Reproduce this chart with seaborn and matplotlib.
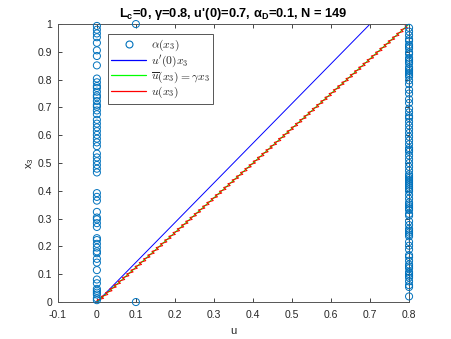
import numpy as np
import pandas as pd
import matplotlib
matplotlib.use("Agg")
import matplotlib.pyplot as plt
from matplotlib.lines import Line2D
from matplotlib.font_manager import FontProperties
import seaborn as sns

# ---- data ----
N = 149
gamma = 0.8
u_prime0 = 0.7
alpha_D = 0.1
alpha_high = 0.8
# node indices (x3 = idx/(N-1)) where alpha(x3) = 0
alpha_zero_idx = [1, 2, 4, 5, 6, 7, 10, 12, 17, 21, 23, 26, 27, 29, 31, 33, 34, 40, 42,
                  44, 45, 48, 54, 56, 58, 69, 71, 73, 75, 77, 79, 83, 85, 87, 89, 91, 93,
                  95, 97, 100, 102, 104, 105, 107, 109, 110, 112, 114, 115, 117, 119, 126,
                  131, 134, 138, 141, 143, 145, 147]
# node indices where alpha(x3) = 0.8
alpha_high_idx = [3, 8, 9, 11, 13, 14, 15, 16, 18, 19, 20, 22, 24, 25, 28, 30, 32, 35, 36,
                  37, 38, 39, 41, 43, 46, 47, 49, 50, 51, 52, 53, 55, 57, 59, 60, 61, 62,
                  63, 64, 65, 66, 67, 68, 70, 72, 74, 76, 78, 80, 81, 82, 84, 86, 88, 90,
                  92, 94, 96, 98, 99, 101, 103, 106, 108, 111, 113, 116, 118, 120, 121,
                  122, 123, 124, 125, 127, 128, 129, 130, 132, 133, 135, 136, 137, 139,
                  140, 142, 144, 146]
# boundary nodes with alpha = alpha_D
alpha_D_idx = [0, 148]
# small zig-zag of u(x3) around the mean line (read amplitude)
u_ripple_pattern = [0.0065, -0.005]

x3_nodes = np.arange(N) / (N - 1)

pts = pd.DataFrame({
    "u": [0.0] * len(alpha_zero_idx) + [alpha_high] * len(alpha_high_idx) + [alpha_D] * len(alpha_D_idx),
    "x3": [x3_nodes[i] for i in alpha_zero_idx + alpha_high_idx + alpha_D_idx],
})

lin = pd.DataFrame({"x3": [0.0, 1.0]})
lin["u"] = u_prime0 * lin["x3"]
mean_df = pd.DataFrame({"x3": x3_nodes, "u": gamma * x3_nodes})
ripple = np.resize(u_ripple_pattern, N)
ripple[0] = 0
ripple[-1] = 0
u_df = pd.DataFrame({"x3": x3_nodes, "u": gamma * x3_nodes + ripple})

# ---- style ----
sns.set_theme(style="white")
plt.rcParams["font.family"] = ["Liberation Sans", "DejaVu Sans"]
plt.rcParams["mathtext.fontset"] = "custom"
plt.rcParams["mathtext.rm"] = "Liberation Sans"
plt.rcParams["mathtext.it"] = "Liberation Sans:italic"
plt.rcParams["mathtext.bf"] = "Liberation Sans:bold"

fig = plt.figure(figsize=(4.52, 3.39), dpi=100)
ax = fig.add_axes([0.128, 0.109, 0.777, 0.820])

mblue = "#0072BD"
sns.scatterplot(data=pts, x="u", y="x3", ax=ax, marker="o", s=26,
                facecolor="none", edgecolor=mblue, linewidth=0.7, legend=False,
                zorder=3, clip_on=False)
sns.lineplot(data=lin, x="u", y="x3", ax=ax, color="#0000FF", lw=0.7,
             sort=False, estimator=None, legend=False)
sns.lineplot(data=mean_df, x="u", y="x3", ax=ax, color="#00FF00", lw=0.8,
             sort=False, estimator=None, legend=False)
sns.lineplot(data=u_df, x="u", y="x3", ax=ax, color="#FF0000", lw=0.7,
             sort=False, estimator=None, legend=False)

ax.set_xlim(-0.1, 0.8)
ax.set_ylim(0, 1)
ax.set_xticks(np.round(np.arange(-0.1, 0.81, 0.1), 1))
ax.set_xticklabels(["-0.1", "0", "0.1", "0.2", "0.3", "0.4", "0.5", "0.6", "0.7", "0.8"])
ax.set_yticks(np.round(np.arange(0, 1.01, 0.1), 1))
ax.set_yticklabels(["0", "0.1", "0.2", "0.3", "0.4", "0.5", "0.6", "0.7", "0.8", "0.9", "1"])
ax.tick_params(direction="in", length=3, width=0.6, labelsize=7.5, colors="#262626",
               top=True, right=True, bottom=True, left=True)
ax.tick_params(axis="x", pad=6)
ax.tick_params(axis="y", pad=4)
for s in ax.spines.values():
    s.set_color("#555555")
    s.set_linewidth(0.7)

ax.set_xlabel("u", fontsize=8, color="#262626", labelpad=4)
ax.set_ylabel("x$_3$", fontsize=8, color="#262626", labelpad=1)
ax.set_title("L$_{\\bf c}$=0, γ=0.8, u'(0)=0.7, α$_{\\bf D}$=0.1, N = 149",
             fontsize=9.3, fontweight="bold", color="black", pad=5)

handles = [
    Line2D([], [], ls="none", marker="o", mfc="none", mec=mblue, ms=5, mew=0.8),
    Line2D([], [], color="#0000FF", lw=0.9),
    Line2D([], [], color="#00FF00", lw=0.9),
    Line2D([], [], color="#FF0000", lw=0.9),
]
labels = [r"$\alpha(x_3)$", r"$u'(0)x_3$", r"$\overline{u}(x_3) = \gamma x_3$", r"$u(x_3)$"]
leg = ax.legend(handles, labels, loc="upper left", bbox_to_anchor=(0.142, 0.964),
                borderaxespad=0, frameon=True, fancybox=False, handlelength=3.0,
                handletextpad=0.4, labelspacing=0.0, borderpad=0.3,
                prop=FontProperties(size=8.4, math_fontfamily="cm"))
leg.get_frame().set_edgecolor("#555555")
leg.get_frame().set_linewidth(0.7)
leg.get_frame().set_alpha(1)

fig.savefig("out.png", dpi=100)
